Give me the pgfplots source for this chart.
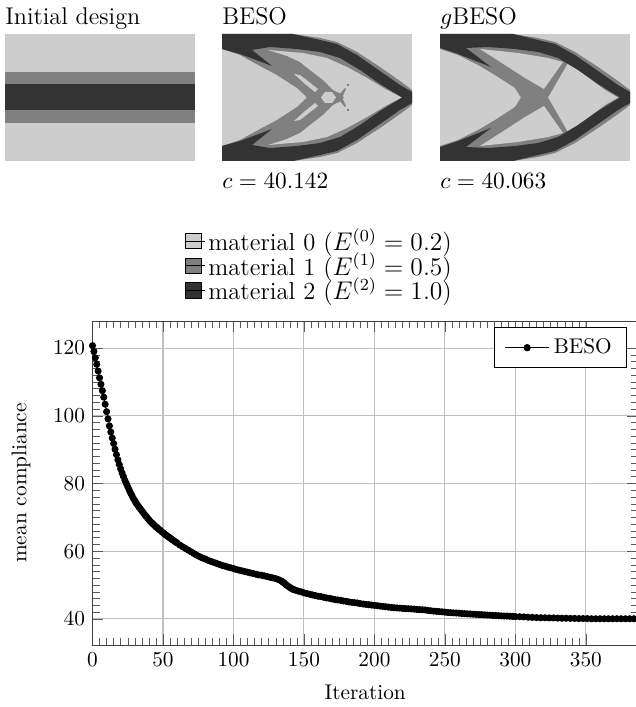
\documentclass[border=0pt]{standalone}
\usepackage{pgfplots}
\pgfplotsset{compat=1.18}
\definecolor{mlight}{HTML}{CDCDCD}
\definecolor{mgrey}{HTML}{808080}
\definecolor{mdark}{HTML}{333333}
\newcommand{\topfont}{\fontsize{11.36pt}{14pt}\selectfont}
\newcommand{\legfont}{\fontsize{11.55pt}{14pt}\selectfont}
\begin{document}
\begin{tikzpicture}[x=0.47pt,y=0.47pt]
\useasboundingbox (0,0) rectangle (636,707);
% overlay axis in picture pixels: design images and material legend
\begin{axis}[at={(0pt,0pt)},anchor=south west,scale only axis,width=298.92pt,height=332.29pt,
  xmin=0,xmax=636,ymin=0,ymax=707,y dir=reverse,hide axis,clip=false,
  legend cell align=left,
  legend image code/.code={\draw[#1] (0pt,-3.6pt) rectangle (7.4pt,3.6pt);\path (0pt,0pt) -- (9.2pt,0pt);},
  legend style={draw=none,fill=none,at={(0.2905,0.6815)},anchor=north west,inner sep=0pt,outer sep=0pt,
    row sep=-3.2pt,font=\legfont,nodes={inner sep=1.5pt}},
  ]
% Initial design
\addplot[forget plot,fill=mlight,draw=none] coordinates {(5,34)(195,34)(195,161)(5,161)} --cycle;
\addplot[forget plot,fill=mgrey,draw=none] coordinates {(5,72)(195,72)(195,123)(5,123)} --cycle;
\addplot[forget plot,fill=mdark,draw=none] coordinates {(5,84.5)(195,84.5)(195,110)(5,110)} --cycle;
% BESO
\addplot[forget plot,fill=mlight,draw=none] coordinates {(222,34)(412,34)(412,161)(222,161)} --cycle;
\addplot[forget plot,fill=mgrey,draw=none] coordinates {(222,34)(293,34)(320,38)(337,42)(357,52)(380,67)(400,81)(412,90)(412,105)(400,114)(380,128)(357,143)(337,153)(320,157)(293,161)(222,161)(222,146)(240,140)(260,129)(277,120)(297,107)(307,97.5)(297,88)(277,75)(260,66)(240,55)(222,49)} --cycle;
\addplot[forget plot,fill=mlight,draw=none] coordinates {(268,50)(303,53)(327,58)(347,67)(367,78)(387,90)(402,97.5)(387,105)(367,117)(347,128)(327,137)(303,142)(268,145)(287,139)(300,133)(310,125)(323,115)(333,105)(340,101.7)(344,97.5)(340,93.3)(333,90)(323,80)(310,70)(300,62)(287,56)} --cycle;
\addplot[forget plot,fill=mgrey,draw=none] coordinates {(339,95)(345,88)(346,89)(342,97.5)(346,106)(345,107)(339,100)} --cycle;
\addplot[forget plot,fill=mgrey,draw=none] coordinates {(347,84)(349,84)(349,86)(347,86)} --cycle;
\addplot[forget plot,fill=mgrey,draw=none] coordinates {(347,109)(349,109)(349,111)(347,111)} --cycle;
\addplot[forget plot,fill=mlight,draw=none] coordinates {(294,74)(300,75)(318,89)(315,92)(305,84)} --cycle;
\addplot[forget plot,fill=mlight,draw=none] coordinates {(294,121)(300,120)(318,106)(315,103)(305,111)} --cycle;
\addplot[forget plot,fill=mlight,draw=none] coordinates {(321,97.5)(325,92)(332,92)(336,97.5)(332,103)(325,103)} --cycle;
\addplot[forget plot,fill=mdark,draw=none] coordinates {(222,34)(293,34)(320,40)(337,44)(357,55)(380,71)(400,85)(412,92)(412,103)(400,110)(380,124)(357,140)(337,151)(320,155)(293,161)(222,161)(222,146)(240,141)(272,129)(252,145)(270,148)(297,146)(320,143)(340,137)(360,125)(380,111)(402,97.5)(380,84)(360,70)(340,58)(320,52)(297,49)(270,47)(252,50)(272,66)(240,54)(222,49)} --cycle;
% gBESO
\addplot[forget plot,fill=mlight,draw=none] coordinates {(440,34)(630,34)(630,161)(440,161)} --cycle;
\addplot[forget plot,fill=mgrey,draw=none] coordinates {(440,34)(513,34)(538,38)(555,42)(575,52)(598,67)(618,81)(630,90)(630,105)(618,114)(598,128)(575,143)(555,153)(538,157)(513,161)(440,161)(440,146)(458,140)(478,130)(495,120)(515,107)(521,97.5)(515,88)(495,75)(478,65)(458,55)(440,49)} --cycle;
\addplot[forget plot,fill=mlight,draw=none] coordinates {(480,49)(518,53)(548,58)(563,62)(544,89)(525,78)(505,65)} --cycle;
\addplot[forget plot,fill=mlight,draw=none] coordinates {(480,146)(518,142)(548,137)(563,133)(544,106)(525,117)(505,130)} --cycle;
\addplot[forget plot,fill=mlight,draw=none] coordinates {(568,63)(585,75)(605,90)(618,97.5)(605,105)(585,120)(568,132)(549,99)(548,97.5)(549,96)} --cycle;
\addplot[forget plot,fill=mdark,draw=none] coordinates {(440,34)(513,34)(538,40)(555,44)(575,55)(598,71)(618,85)(630,92)(630,103)(618,110)(598,124)(575,140)(555,151)(538,155)(513,161)(440,161)(440,147)(458,141)(491,128)(466,147)(488,148)(515,146)(538,143)(558,137)(578,125)(598,111)(620,97.5)(598,84)(578,70)(558,58)(538,52)(515,49)(488,47)(466,48)(491,67)(458,54)(440,48)} --cycle;
% legend swatches
\addlegendimage{fill=mlight,draw=black}
\addlegendentry{material 0 ($E^{(0)}=0.2$)}
\addlegendimage{fill=mgrey,draw=black}
\addlegendentry{material 1 ($E^{(1)}=0.5$)}
\addlegendimage{fill=mdark,draw=black}
\addlegendentry{material 2 ($E^{(2)}=1.0$)}
% labels
\node[anchor=base west,inner sep=0pt,font=\topfont] at (axis cs:5,25) {Initial design};
\node[anchor=base west,inner sep=0pt,font=\topfont] at (axis cs:222,25) {BESO};
\node[anchor=base west,inner sep=0pt,font=\topfont] at (axis cs:440,25) {$g$BESO};
\node[anchor=base west,inner sep=0pt,font=\topfont] at (axis cs:222,189) {$c=40.142$};
\node[anchor=base west,inner sep=0pt,font=\topfont] at (axis cs:440,189) {$c=40.063$};
\end{axis}
% main chart
\begin{axis}[at={(43.475pt,29.14pt)},anchor=south west,scale only axis,width=256.4pt,height=152.3pt,
  xmin=0,xmax=387,ymin=32.3,ymax=128,
  xtick={0,50,...,350},ytick={40,60,...,120},
  minor x tick num=9,minor y tick num=9,
  major tick length=5pt,minor tick length=3.4pt,
  tick style={black!65},axis line style={black!75},
  xmajorgrids,ymajorgrids,grid style={line width=.5pt,draw=gray!50},
  xlabel={Iteration},ylabel={mean compliance},
  ylabel shift=3.7pt,xlabel shift=1.8pt,
  legend image code/.code={\draw[mark repeat=2,mark phase=2,#1] plot coordinates {(0cm,0cm)(0.36cm,0cm)(0.72cm,0cm)};},
  legend style={at={(0.98,0.98)},anchor=north east,cells={anchor=west},inner xsep=5pt,inner ysep=3pt,draw=black,line width=.5pt}]
\addplot[black,mark=*,mark size=1.45pt,mark options={fill=black}] coordinates {
(0,120.7)(1,119)(2,117.1)(3,115.2)(4,113.2)(5,111.2)(6,109.3)(7,107.4)(8,105.5)(9,103.4)
(10,101.2)(11,99.1)(12,97)(13,95.2)(14,93.4)(15,91.8)(16,90.1)(17,88.5)(18,87)(19,85.6)
(20,84.3)(21,83.1)(22,82)(23,80.9)(24,80)(25,79)(26,78.1)(27,77.2)(28,76.4)(29,75.6)
(30,74.9)(31,74.2)(32,73.6)(33,73)(34,72.5)(35,71.9)(36,71.4)(37,70.8)(38,70.3)(39,69.8)
(40,69.3)(41,68.8)(42,68.4)(43,68)(44,67.6)(45,67.2)(46,66.9)(47,66.5)(48,66.2)(49,65.8)
(50,65.5)(51,65.1)(52,64.8)(53,64.5)(54,64.2)(55,63.9)(56,63.6)(57,63.3)(58,63)(59,62.7)
(60,62.4)(62,61.8)(64,61.3)(66,60.8)(68,60.3)(70,59.8)(72,59.3)(74,58.8)(76,58.4)(78,58)
(80,57.7)(82,57.3)(84,57)(86,56.7)(88,56.4)(90,56.1)(92,55.8)(94,55.6)(96,55.3)(98,55.1)
(100,54.9)(102,54.6)(104,54.4)(106,54.2)(108,54)(110,53.8)(112,53.6)(114,53.4)(116,53.2)(118,53)
(120,52.9)(122,52.7)(124,52.5)(126,52.3)(128,52.1)(130,51.9)(132,51.6)(134,51.2)(135,50.9)(136,50.6)
(137,50.2)(138,49.9)(139,49.6)(140,49.3)(141,49)(142,48.8)(143,48.6)(144,48.5)(146,48.2)(148,48)
(150,47.7)(152,47.5)(154,47.3)(156,47.1)(158,46.9)(160,46.7)(162,46.6)(164,46.4)(166,46.2)(168,46.1)
(170,45.9)(172,45.7)(174,45.6)(176,45.5)(178,45.3)(180,45.2)(182,45)(184,44.9)(186,44.8)(188,44.7)
(190,44.5)(192,44.4)(194,44.3)(196,44.2)(198,44.1)(200,44)(202,43.9)(204,43.8)(206,43.7)(208,43.6)
(210,43.5)(212,43.4)(214,43.3)(216,43.25)(218,43.2)(220,43.1)(222,43.05)(224,43)(226,42.95)(228,42.9)
(230,42.8)(232,42.75)(234,42.7)(236,42.65)(238,42.5)(240,42.4)(242,42.3)(244,42.25)(246,42.15)(248,42.1)
(250,42)(252,41.9)(254,41.85)(256,41.8)(258,41.75)(260,41.7)(262,41.6)(264,41.55)(266,41.5)(268,41.45)
(270,41.4)(272,41.35)(274,41.3)(276,41.25)(278,41.2)(280,41.15)(282,41.1)(284,41.05)(286,41)(288,40.95)
(290,40.9)(292,40.85)(294,40.85)(296,40.8)(298,40.75)(300,40.7)(303,40.65)(306,40.6)(309,40.5)(312,40.45)
(315,40.4)(318,40.35)(321,40.35)(324,40.3)(327,40.3)(330,40.25)(333,40.2)(336,40.2)(339,40.15)(342,40.15)
(345,40.1)(348,40.1)(351,40.1)(354,40.05)(357,40.05)(360,40.05)(363,40.05)(366,40.05)(369,40.05)(372,40.05)
(375,40.05)(378,40.05)(381,40.05)(384,40.05)(387,40.05)
};
\addlegendentry{BESO}
\end{axis}
\end{tikzpicture}
\end{document}
